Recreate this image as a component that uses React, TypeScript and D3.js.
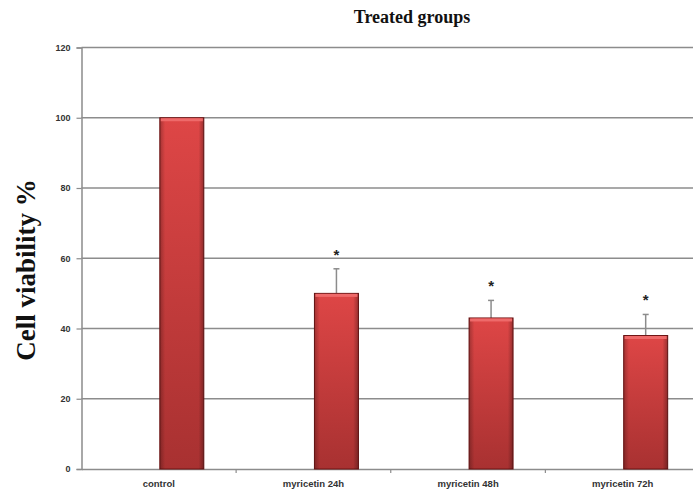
// bar chart of cell viability with error bars, drawn with d3
import * as d3 from "d3";
import { useEffect, useRef } from "react";

const groups = ["control", "myricetin 24h", "myricetin 48h", "myricetin 72h"];
const viability = [100, 50, 43, 38];
const errors = [0, 7, 5, 6];
const significant = [false, true, true, true];
const yTicks = [0, 20, 40, 60, 80, 100, 120];

export default function App() {
  const svgRef = useRef<SVGSVGElement>(null);

  useEffect(() => {
    const width = 693;
    const height = 492;
    const svg = d3.select(svgRef.current);
    svg.selectAll("*").remove();

    // plot area
    const left = 81.5;
    const right = 700;
    const top = 47.5;
    const bottom = 469;

    const x = d3.scaleBand().domain(groups).range([left, right]).paddingInner(0);
    const y = d3.scaleLinear().domain([0, 120]).range([bottom, top]);

    const barW = 44;
    const barShift = 23;

    // gradient for bars
    const defs = svg.append("defs");
    const grad = defs
      .append("linearGradient")
      .attr("id", "barGrad")
      .attr("x1", 0)
      .attr("y1", 0)
      .attr("x2", 0)
      .attr("y2", 1);
    grad.append("stop").attr("offset", "0%").attr("stop-color", "#de4646");
    grad.append("stop").attr("offset", "100%").attr("stop-color", "#a83131");

    const side = defs
      .append("linearGradient")
      .attr("id", "sideGrad")
      .attr("x1", 0)
      .attr("y1", 0)
      .attr("x2", 1)
      .attr("y2", 0);
    side.append("stop").attr("offset", "0%").attr("stop-color", "#000").attr("stop-opacity", 0.25);
    side.append("stop").attr("offset", "12%").attr("stop-color", "#000").attr("stop-opacity", 0);
    side.append("stop").attr("offset", "88%").attr("stop-color", "#000").attr("stop-opacity", 0);
    side.append("stop").attr("offset", "100%").attr("stop-color", "#000").attr("stop-opacity", 0.3);

    // gridlines
    svg
      .append("g")
      .selectAll("line")
      .data(yTicks.filter((d) => d > 0))
      .enter()
      .append("line")
      .attr("x1", left)
      .attr("x2", width)
      .attr("y1", (d) => y(d))
      .attr("y2", (d) => y(d))
      .attr("stroke", "#8c8c8c")
      .attr("stroke-width", 1.5);

    // y axis
    const yAxis = svg
      .append("g")
      .attr("transform", "translate(" + left + ",0)")
      .call(d3.axisLeft(y).tickValues(yTicks).tickSize(5).tickPadding(6));
    yAxis.select(".domain").attr("stroke", "#8c8c8c").attr("stroke-width", 1.5);
    yAxis.selectAll(".tick line").attr("stroke", "#8c8c8c").attr("stroke-width", 1.2);
    yAxis
      .selectAll(".tick text")
      .attr("fill", "#333")
      .style("font-family", "Liberation Sans, Arial, sans-serif")
      .style("font-size", "9px")
      .style("font-weight", "bold");

    // x axis
    const xAxis = svg
      .append("g")
      .attr("transform", "translate(0," + bottom + ")")
      .call(d3.axisBottom(x).tickSize(0).tickPadding(11));
    xAxis.select(".domain").attr("stroke", "#8c8c8c").attr("stroke-width", 1.5);
    xAxis
      .selectAll(".tick text")
      .attr("fill", "#333")
      .style("font-family", "Liberation Sans Narrow, Liberation Sans, Arial, sans-serif")
      .style("font-size", "9.5px")
      .style("font-weight", "bold");

    // category dividers on x axis
    svg
      .append("g")
      .selectAll("line")
      .data(groups.slice(1))
      .enter()
      .append("line")
      .attr("x1", (d) => x(d)!)
      .attr("x2", (d) => x(d)!)
      .attr("y1", bottom)
      .attr("y2", bottom + 4)
      .attr("stroke", "#8c8c8c")
      .attr("stroke-width", 1.2);

    const cx = (d: string) => x(d)! + x.bandwidth() / 2 + barShift;

    // error bars
    const err = svg.append("g").attr("stroke", "#8c8c8c").attr("stroke-width", 1.5);
    groups.forEach((g, i) => {
      if (!errors[i]) return;
      err
        .append("line")
        .attr("x1", cx(g))
        .attr("x2", cx(g))
        .attr("y1", y(viability[i]))
        .attr("y2", y(viability[i] + errors[i]));
      err
        .append("line")
        .attr("x1", cx(g) - 3)
        .attr("x2", cx(g) + 3)
        .attr("y1", y(viability[i] + errors[i]))
        .attr("y2", y(viability[i] + errors[i]));
    });

    // bars
    const bars = svg.append("g");
    bars
      .selectAll("rect.bar")
      .data(groups)
      .enter()
      .append("rect")
      .attr("class", "bar")
      .attr("x", (d) => cx(d) - barW / 2)
      .attr("y", (d, i) => y(viability[i]))
      .attr("width", barW)
      .attr("height", (d, i) => bottom - y(viability[i]))
      .attr("fill", "url(#barGrad)")
      .attr("stroke", "#6e1414")
      .attr("stroke-width", 1);
    bars
      .selectAll("rect.shade")
      .data(groups)
      .enter()
      .append("rect")
      .attr("class", "shade")
      .attr("x", (d) => cx(d) - barW / 2)
      .attr("y", (d, i) => y(viability[i]))
      .attr("width", barW)
      .attr("height", (d, i) => bottom - y(viability[i]))
      .attr("fill", "url(#sideGrad)");
    // top bevel
    bars
      .selectAll("rect.top")
      .data(groups)
      .enter()
      .append("rect")
      .attr("class", "top")
      .attr("x", (d) => cx(d) - barW / 2 + 1)
      .attr("y", (d, i) => y(viability[i]) + 0.5)
      .attr("width", barW - 2)
      .attr("height", 3)
      .attr("fill", "#ee6a6a");

    // asterisks
    svg
      .append("g")
      .selectAll("text")
      .data(groups)
      .enter()
      .filter((d, i) => significant[i])
      .append("text")
      .attr("x", (d) => cx(d))
      .attr("y", (d) => {
        const i = groups.indexOf(d);
        return y(viability[i] + errors[i]) - 9;
      })
      .attr("text-anchor", "middle")
      .style("font-family", "Liberation Sans, Arial, sans-serif")
      .style("font-size", "15px")
      .style("font-weight", "bold")
      .attr("fill", "#222")
      .text("*");

    // title
    svg
      .append("text")
      .attr("x", 412)
      .attr("y", 23)
      .attr("text-anchor", "middle")
      .style("font-family", "Liberation Serif, Times New Roman, serif")
      .style("font-size", "18px")
      .style("font-weight", "bold")
      .attr("fill", "#111")
      .text("Treated groups");

    // y label
    svg
      .append("text")
      .attr("transform", "translate(35,270) rotate(-90)")
      .attr("text-anchor", "middle")
      .style("font-family", "Liberation Serif, Times New Roman, serif")
      .style("font-size", "27px")
      .style("font-weight", "bold")
      .attr("fill", "#111")
      .text("Cell viability %");

    svg.attr("width", width).attr("height", height);
  }, []);

  return (
    <svg
      ref={svgRef}
      width={693}
      height={492}
      style={{ position: "absolute", left: 0, top: 0, background: "#fff" }}
    />
  );
}
